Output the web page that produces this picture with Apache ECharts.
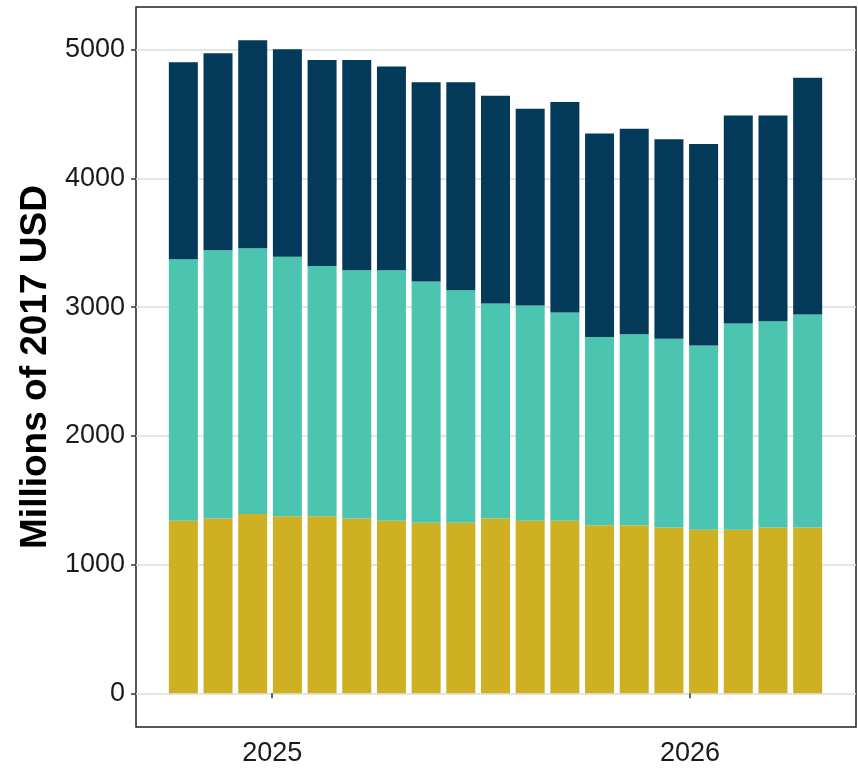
<!DOCTYPE html>
<html>
<head>
<meta charset="utf-8">
<script src="https://cdn.jsdelivr.net/npm/echarts@6/dist/echarts.min.js"></script>
<style>
  html, body { margin: 0; padding: 0; background: #ffffff; }
  #chart { width: 858px; height: 771px; }
</style>
</head>
<body>
<div id="chart"></div>
<script>
// ---- Data ----
const months = [
  '2024-10', '2024-11', '2024-12', '2025-01', '2025-02',
  '2025-03', '2025-04', '2025-05', '2025-06', '2025-07',
  '2025-08', '2025-09', '2025-10', '2025-11', '2025-12',
  '2026-01', '2026-02', '2026-03', '2026-04'
];
// bottom segment (gold)
const goldValues = [1340, 1358, 1392, 1376, 1376, 1358, 1340, 1324, 1324, 1358,
                    1340, 1340, 1306, 1306, 1288, 1270, 1270, 1288, 1288];
// middle segment (teal)
const tealValues = [2032, 2084, 2065, 2014, 1944, 1928, 1946, 1874, 1807, 1669,
                    1672, 1617, 1462, 1483, 1465, 1431, 1602, 1602, 1654];
// top segment (navy)
const navyValues = [1529, 1529, 1615, 1612, 1599, 1633, 1582, 1548, 1615, 1615,
                    1529, 1636, 1581, 1597, 1550, 1565, 1617, 1599, 1840];
const yTicks = [0, 1000, 2000, 3000, 4000, 5000];
const xTicks = ['2025-01-01', '2026-01-01'];
const xRange = ['2024-09-04', '2026-05-26'];
const yTitle = 'Millions of 2017 USD';

// ---- Chart ----
const chart = echarts.init(document.getElementById('chart'), null, { renderer: 'canvas' });

const t = (s) => Date.parse(s + 'T00:00:00Z');
const barW = 29;
const font = '"Liberation Sans", Arial, sans-serif';
const yMin = -262, yMax = 5331;

chart.setOption({
  animation: false,
  backgroundColor: '#ffffff',
  grid: [
    { // frame, date axis, y axis
      left: 136, right: 2, top: 7, bottom: 44,
      show: true, borderColor: '#222', borderWidth: 1.5,
      backgroundColor: 'transparent', containLabel: false
    },
    { // bar band area: one band per month (mid-month centres)
      left: 166, right: 33, top: 7, bottom: 44,
      show: false, containLabel: false
    }
  ],
  xAxis: [
    {
      gridIndex: 0,
      type: 'value',
      min: t(xRange[0]),
      max: t(xRange[1]),
      axisLine: { show: false },
      axisTick: {
        show: true, length: 5, inside: false,
        customValues: xTicks.map(t),
        lineStyle: { color: '#333', width: 1.5 }
      },
      axisLabel: {
        show: true,
        customValues: xTicks.map(t),
        margin: 13,
        fontFamily: font, fontSize: 27, color: '#1a1a1a',
        formatter: function (v) { return String(new Date(v).getUTCFullYear()); }
      },
      splitLine: { show: false }
    },
    {
      gridIndex: 1,
      type: 'category',
      data: months,
      boundaryGap: true,
      axisLine: { show: false },
      axisTick: { show: false },
      axisLabel: { show: false },
      splitLine: { show: false }
    }
  ],
  yAxis: [
    {
      gridIndex: 0,
      type: 'value',
      min: yMin,
      max: yMax,
      name: yTitle,
      nameLocation: 'middle',
      nameRotate: 90,
      nameGap: 82,
      nameTextStyle: { fontFamily: font, fontSize: 37, fontWeight: 'bold', color: '#000' },
      axisLine: { show: false },
      axisTick: {
        show: true, length: 5, inside: false,
        customValues: yTicks,
        lineStyle: { color: '#333', width: 1.5 }
      },
      axisLabel: {
        show: true,
        customValues: yTicks,
        margin: 11,
        fontFamily: font, fontSize: 27, color: '#1a1a1a',
        formatter: function (v) { return String(v); }
      },
      splitLine: { show: true, lineStyle: { color: '#dcdcdc', width: 1.5 } }
    },
    {
      gridIndex: 1,
      type: 'value',
      min: yMin,
      max: yMax,
      show: false,
      splitLine: { show: false }
    }
  ],
  series: [
    {
      type: 'bar', name: 'Bottom', stack: 'total', barWidth: barW,
      xAxisIndex: 1, yAxisIndex: 1,
      itemStyle: { color: '#CFB023' },
      data: goldValues
    },
    {
      type: 'bar', name: 'Middle', stack: 'total', barWidth: barW,
      xAxisIndex: 1, yAxisIndex: 1,
      itemStyle: { color: '#4BC5B0' },
      data: tealValues
    },
    {
      type: 'bar', name: 'Top', stack: 'total', barWidth: barW,
      xAxisIndex: 1, yAxisIndex: 1,
      itemStyle: { color: '#033A5A' },
      data: navyValues
    }
  ]
});
</script>
</body>
</html>
